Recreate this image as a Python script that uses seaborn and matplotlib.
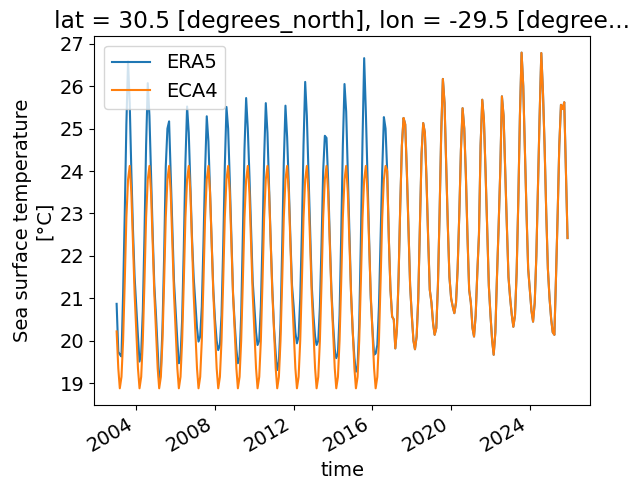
import numpy as np
import pandas as pd
import seaborn as sns
import matplotlib
matplotlib.use("Agg")
import matplotlib.pyplot as plt
import matplotlib.dates as mdates

plt.rcParams['font.size'] = 14

# monthly SST from ERA5, Jan 2003 .. Dec 2025 (one row per year, Jan..Dec)
era5_sst = [
    20.87, 19.74, 19.68, 19.63, 21.1, 23.0, 25.1, 26.58, 25.6, 24.0, 22.6, 21.5,   # 2003
    20.8, 20.1, 19.51, 19.7, 20.7, 22.5, 24.6, 26.07, 25.3, 23.9, 22.5, 21.3,      # 2004
    20.6, 19.8, 19.04, 19.3, 20.3, 22.0, 24.1, 25.0, 25.17, 23.9, 22.6, 21.4,      # 2005
    20.7, 20.0, 19.47, 19.6, 20.5, 22.2, 24.2, 25.52, 24.9, 23.7, 22.4, 21.5,      # 2006
    20.9, 20.3, 19.98, 20.1, 20.8, 22.3, 24.0, 25.29, 24.7, 23.5, 22.3, 21.2,      # 2007
    20.5, 20.0, 19.78, 19.9, 20.6, 22.2, 24.1, 25.51, 25.0, 23.8, 22.4, 21.1,      # 2008
    20.4, 19.8, 19.47, 19.6, 20.6, 22.5, 24.5, 25.72, 25.0, 23.9, 22.6, 21.4,      # 2009
    20.8, 20.2, 19.90, 20.0, 20.8, 22.4, 24.3, 25.60, 24.9, 23.6, 22.3, 21.2,      # 2010
    20.3, 19.7, 19.31, 19.5, 20.4, 22.2, 24.2, 25.54, 24.8, 23.7, 22.4, 21.3,      # 2011
    20.8, 20.2, 19.94, 20.1, 21.0, 22.6, 24.6, 26.10, 25.3, 24.0, 22.6, 21.3,      # 2012
    20.6, 20.1, 19.90, 20.0, 20.8, 22.3, 24.0, 24.83, 24.78, 23.8, 22.4, 21.2,     # 2013
    20.4, 19.8, 19.59, 19.7, 20.6, 22.5, 24.6, 26.05, 25.4, 24.0, 22.5, 21.1,      # 2014
    20.2, 19.6, 19.27, 19.4, 20.4, 22.4, 24.7, 26.66, 25.4, 23.9, 22.4, 21.0,      # 2015
    20.3, 19.67, 19.70, 19.9, 20.8, 22.4, 24.0, 25.27, 25.0, 24.0, 22.4, 21.2,     # 2016
    20.57, 20.5, 19.82, 20.3, 21.5, 23.2, 24.6, 25.25, 25.1, 24.0, 22.6, 21.3,     # 2017
    20.6, 20.0, 19.8, 20.1, 21.0, 22.7, 24.4, 25.13, 24.9, 23.8, 22.4, 21.2,       # 2018
    20.9, 20.4, 20.14, 20.3, 21.3, 23.0, 24.9, 26.17, 25.6, 24.2, 22.7, 21.5,      # 2019
    21.0, 20.8, 20.65, 20.9, 21.7, 23.0, 24.5, 25.48, 25.0, 23.9, 22.4, 21.2,      # 2020
    20.9, 20.3, 20.10, 20.6, 21.6, 22.5, 24.6, 25.68, 25.2, 24.0, 22.6, 21.3,      # 2021
    20.6, 20.0, 19.67, 20.2, 21.5, 22.7, 24.0, 25.76, 25.3, 24.0, 22.7, 21.5,      # 2022
    21.0, 20.6, 20.33, 20.6, 21.6, 23.3, 25.3, 26.79, 26.0, 24.5, 23.0, 21.7,      # 2023
    21.2, 20.7, 20.45, 20.9, 22.0, 23.7, 25.3, 26.78, 25.85, 24.6, 23.0, 21.7,     # 2024
    21.0, 20.5, 20.20, 20.14, 21.5, 23.0, 24.6, 25.56, 25.46, 25.62, 24.0, 22.42,  # 2025
]

# ECA4 is a repeated climatology until Sep 2016, then follows the observations
eca4_clim = [20.22, 19.35, 18.88, 19.15, 20.0, 21.4, 22.9, 23.8, 24.12, 23.5, 22.3, 21.1]
eca4_switch = "2016-10-01"

times = pd.date_range("2003-01-01", periods=len(era5_sst), freq="MS")
n_clim = int((times < eca4_switch).sum())
eca4_sst = (eca4_clim * 20)[:n_clim] + era5_sst[n_clim:]

df = pd.concat([
    pd.DataFrame({"time": times, "sst": era5_sst, "source": "ERA5"}),
    pd.DataFrame({"time": times, "sst": eca4_sst, "source": "ECA4"}),
])

fig = plt.figure(figsize=(6.4, 4.91), dpi=100)
ax = fig.add_axes([0.147, 0.175, 0.775, 0.752])

sns.lineplot(data=df, x="time", y="sst", hue="source",
             palette=["#1f77b4", "#ff7f0e"], linewidth=1.5, ax=ax)

handles, labels = ax.get_legend_handles_labels()
ax.legend(handles, labels, loc="upper left")

ax.xaxis.set_major_locator(mdates.YearLocator(4))
ax.xaxis.set_major_formatter(mdates.DateFormatter("%Y"))
for lbl in ax.get_xticklabels():
    lbl.set_rotation(30)
    lbl.set_ha("right")

ax.set_xlabel("time")
ax.set_ylabel("Sea surface temperature\n[°C]")
ax.set_title("lat = 30.5 [degrees_north], lon = -29.5 [degree...")

fig.savefig("out.png", dpi=100)
